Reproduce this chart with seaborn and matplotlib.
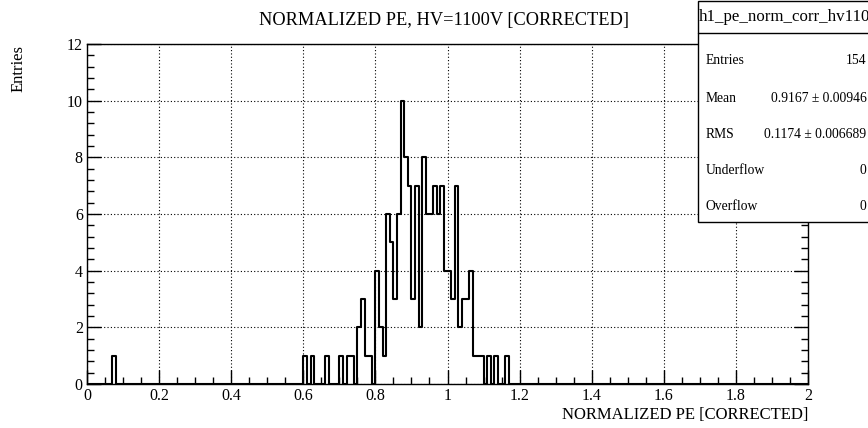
import numpy as np
import pandas as pd
import seaborn as sns
import matplotlib
matplotlib.use("Agg")
import matplotlib.pyplot as plt
from matplotlib.patches import Rectangle
from matplotlib.lines import Line2D
from matplotlib.ticker import MultipleLocator, FuncFormatter

# Lower edges of the filled bins (bin width 0.01) and their entry counts
bin_low = [0.07,
           0.60, 0.62, 0.66, 0.70, 0.72, 0.73,
           0.75, 0.76, 0.77, 0.78, 0.80,
           0.81, 0.82, 0.83, 0.84, 0.85, 0.86, 0.87, 0.88, 0.89, 0.90,
           0.91, 0.92, 0.93, 0.94, 0.95, 0.96, 0.97, 0.98, 0.99, 1.00,
           1.01, 1.02, 1.03, 1.04, 1.05, 1.06, 1.07, 1.08, 1.09,
           1.11, 1.13, 1.16]
counts = [1,
          1, 1, 1, 1, 1, 1,
          2, 3, 1, 1, 4,
          2, 1, 6, 5, 3, 6, 10, 8, 7, 3,
          7, 2, 8, 6, 6, 7, 6, 7, 4, 4,
          3, 7, 2, 3, 3, 4, 1, 1, 1,
          1, 1, 1]

hist_name = "h1_pe_norm_corr_hv1100"
title = "NORMALIZED PE, HV=1100V [CORRECTED]"
x_label = "NORMALIZED PE [CORRECTED]"
y_label = "Entries"
stat_labels = ["Entries", "Mean", "RMS", "Underflow", "Overflow"]
stat_values = ["154", "0.9167 \u00b1 0.00946", "0.1174 \u00b1 0.006689", "0", "0"]

W, H = 868, 428
sns.set_theme(style="white")
plt.rcParams["font.family"] = ["Liberation Serif", "DejaVu Serif"]

fig = plt.figure(figsize=(W / 100, H / 100), dpi=100)
fig.patch.set_facecolor("white")

def fx(px):
    return px / W

def fy(py):
    return 1 - py / H

ax = fig.add_axes([fx(87), fy(384), fx(808) - fx(87), fy(44) - fy(384)])
ax.set_facecolor("white")

df = pd.DataFrame({"pe": np.array(bin_low) + 0.005, "n": counts})
sns.histplot(data=df, x="pe", weights="n", bins=200, binrange=(0, 2),
             element="step", fill=False, color="black", linewidth=1.5, ax=ax)

ax.set_xlim(0, 2)
ax.set_ylim(0, 12)
ax.xaxis.set_major_locator(MultipleLocator(0.2))
ax.xaxis.set_minor_locator(MultipleLocator(0.05))
ax.yaxis.set_major_locator(MultipleLocator(2))
ax.yaxis.set_minor_locator(MultipleLocator(0.4))

ax.grid(True, which="major", color="black", linestyle=(0, (1, 2)), linewidth=0.8)
ax.set_axisbelow(True)

for s in ax.spines.values():
    s.set_color("black")
    s.set_linewidth(1.0)

ax.tick_params(which="both", direction="in", colors="black", labelsize=11.5,
               top=False, right=True, bottom=True, left=True, width=1.0)
ax.tick_params(which="major", length=10)
ax.tick_params(which="minor", length=5)
ax.tick_params(axis="x", pad=3)
ax.tick_params(axis="y", pad=3)

def fmt(v, _):
    s = f"{v:.1f}"
    if s.endswith(".0"):
        s = s[:-2]
    return s

ax.xaxis.set_major_formatter(FuncFormatter(fmt))
ax.yaxis.set_major_formatter(FuncFormatter(lambda v, _: f"{int(round(v))}"))

ax.set_xlabel("")
ax.set_ylabel("")
fig.text(fx(808), fy(415), x_label, ha="right", va="center", fontsize=12, color="black")
fig.text(fx(19), fy(45), y_label, ha="center", va="top", rotation=90, fontsize=12, color="black")
fig.text(fx(444), fy(21), title, ha="center", va="center", fontsize=13.2, color="black")

# Statistics box; it runs past the right edge of the canvas
bx0, by0, bx1, by1 = 697.5, 1.5, 880, 222.5
box = Rectangle((fx(bx0), fy(by1)), fx(bx1) - fx(bx0), fy(by0) - fy(by1),
                transform=fig.transFigure, facecolor="white",
                edgecolor="black", linewidth=1.0, zorder=5)
fig.patches.append(box)
fig.lines.append(Line2D([fx(bx0), fx(bx1)], [fy(32.5), fy(32.5)],
                        transform=fig.transFigure, color="black", linewidth=1.0, zorder=6))
fig.text(fx(789), fy(17), hist_name, ha="center", va="center", fontsize=12.2,
         color="black", zorder=7)
row_y = [61, 98, 134, 170, 206]
for lab, val, ry in zip(stat_labels, stat_values, row_y):
    fig.text(fx(706), fy(ry), lab, ha="left", va="center", fontsize=9.8, color="black", zorder=7)
    fig.text(fx(866.5), fy(ry), val, ha="right", va="center", fontsize=9.8, color="black", zorder=7)

fig.savefig("out.png", dpi=100, facecolor="white")
